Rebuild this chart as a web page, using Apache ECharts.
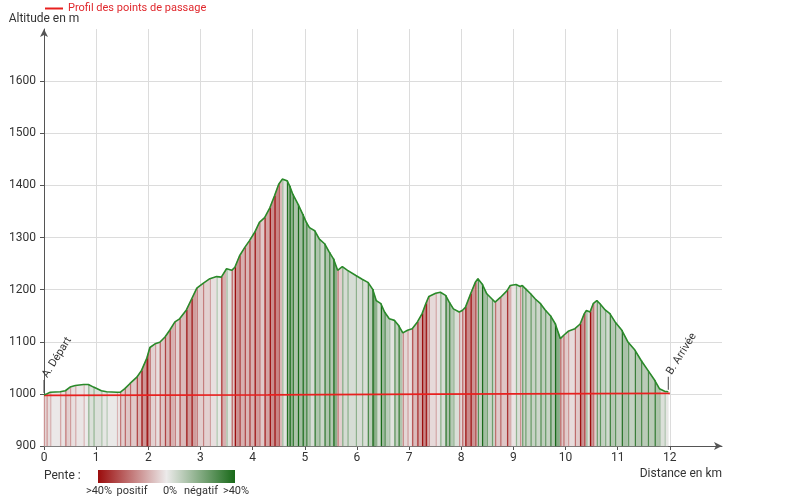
<!DOCTYPE html>
<html>
<head>
<meta charset="utf-8">
<script src="https://cdn.jsdelivr.net/npm/echarts@6/dist/echarts.min.js"></script>
<style>html,body{margin:0;padding:0;background:#fff;}#c{width:800px;height:504px;}</style>
</head>
<body>
<div id="c"></div>
<script>
// Elevation profile (distance km, altitude m)
const profileKm = [0.00,0.05,0.12,0.31,0.41,0.50,0.60,0.76,0.85,0.95,1.10,1.20,1.40,1.46,1.55,1.65,1.78,1.87,1.97,2.03,2.13,2.22,2.32,2.41,2.51,2.60,2.73,2.83,2.93,3.05,3.18,3.31,3.40,3.50,3.60,3.66,3.75,3.85,3.94,4.04,4.13,4.23,4.33,4.42,4.50,4.57,4.66,4.71,4.77,4.87,4.96,5.03,5.09,5.19,5.28,5.38,5.47,5.55,5.63,5.72,5.82,5.98,6.10,6.21,6.30,6.37,6.46,6.53,6.62,6.72,6.80,6.88,6.97,7.06,7.16,7.25,7.32,7.38,7.51,7.60,7.70,7.77,7.85,7.96,8.02,8.08,8.18,8.27,8.32,8.40,8.49,8.59,8.65,8.75,8.88,8.94,9.05,9.13,9.17,9.23,9.33,9.42,9.52,9.61,9.71,9.80,9.90,9.96,10.05,10.18,10.28,10.36,10.40,10.47,10.53,10.60,10.66,10.76,10.85,10.95,11.08,11.20,11.33,11.45,11.58,11.71,11.80,11.90,11.97];
const profileAlt = [998,1000,1003,1004,1006,1013,1016,1018,1018,1013,1006,1004,1003,1003,1010,1020,1032,1045,1068,1089,1096,1099,1109,1122,1138,1144,1161,1182,1203,1212,1221,1225,1224,1240,1237,1243,1265,1281,1294,1310,1329,1338,1357,1380,1402,1412,1409,1399,1383,1364,1345,1329,1319,1313,1297,1288,1272,1259,1237,1244,1237,1227,1220,1214,1201,1179,1173,1157,1144,1141,1131,1117,1122,1125,1138,1154,1173,1187,1193,1195,1189,1176,1163,1157,1160,1166,1192,1214,1221,1211,1192,1182,1176,1185,1198,1208,1210,1206,1208,1202,1192,1182,1173,1161,1150,1135,1106,1112,1120,1125,1134,1154,1160,1157,1173,1179,1173,1161,1154,1138,1122,1099,1084,1064,1045,1026,1010,1005,1004];

// Waypoint profile (red line)
const waypointKm = [0, 4.3, 7.5, 10.5, 12];
const waypointAlt = [997, 998, 999.5, 1000.5, 1001];

// Start / finish markers
const markerNames = ['A. Départ', 'B. Arrivée'];
const markerKm = [0, 11.97];
const markerAlt = [998, 1004];

// Slope legend labels
const slopeLabels = ['>40%', 'positif', '0%', 'négatif', '>40%'];

const FONT = 'Roboto, "Noto Sans", sans-serif';
const C_MID = [236, 234, 234], C_POS = [155, 12, 12], C_NEG = [24, 105, 24];
function mix(e, t) {
  const c = C_MID.map((m, i) => Math.round(m + (e[i] - m) * t));
  return 'rgb(' + c.join(',') + ')';
}
function slopeEnd(s) { return s >= 0 ? C_POS : C_NEG; }
function slopeT(s) { return Math.min(Math.abs(s) / 40, 1); }

const segments = [];
for (let i = 0; i < profileKm.length - 1; i++) {
  const slope = (profileAlt[i + 1] - profileAlt[i]) / ((profileKm[i + 1] - profileKm[i]) * 1000) * 100;
  segments.push([profileKm[i], profileAlt[i], profileKm[i + 1], profileAlt[i + 1], slope]);
}
const profileData = profileKm.map((k, i) => [k, profileAlt[i]]);
const waypointData = waypointKm.map((k, i) => [k, waypointAlt[i]]);
const markerData = markerKm.map((k, i) => [k, markerAlt[i], i]);

const chart = echarts.init(document.getElementById('c'), null, { renderer: 'canvas' });
chart.setOption({
  animation: false,
  textStyle: { fontFamily: FONT },
  grid: { left: 44, right: 78, top: 29, bottom: 58 },
  legend: {
    data: ['Profil des points de passage'],
    left: 40, top: -2,
    icon: 'rect', itemWidth: 18, itemHeight: 2, itemGap: 4,
    textStyle: { color: '#e0282d', fontSize: 11, fontFamily: FONT }
  },
  xAxis: {
    type: 'value', min: 0, max: 13, interval: 1,
    name: 'Distance en km', nameLocation: 'end', nameGap: 0,
    nameTextStyle: { align: 'right', verticalAlign: 'top', padding: [22, 0, 0, 0], color: '#333', fontSize: 12 },
    axisLine: { show: true, symbol: ['none', 'arrow'], symbolSize: [6, 8], lineStyle: { color: '#555', width: 1 } },
    axisTick: { show: true, length: 4, lineStyle: { color: '#555' } },
    axisLabel: { color: '#333', fontSize: 12, margin: 6, showMaxLabel: false, formatter: v => String(v) },
    splitLine: { show: true, showMinLine: false, showMaxLine: false, lineStyle: { color: '#dcdcdc', width: 1 } }
  },
  yAxis: {
    type: 'value', min: 900, max: 1700, interval: 100,
    name: 'Altitude en m', nameLocation: 'end', nameGap: 4,
    nameTextStyle: { color: '#333', fontSize: 12 },
    axisLine: { show: true, symbol: ['none', 'arrow'], symbolSize: [6, 8], lineStyle: { color: '#555', width: 1 } },
    axisTick: { show: true, length: 4, lineStyle: { color: '#555' } },
    axisLabel: { color: '#333', fontSize: 12, margin: 8, showMaxLabel: false, formatter: v => String(v) },
    splitLine: { show: true, showMinLine: false, showMaxLine: false, lineStyle: { color: '#dcdcdc', width: 1 } }
  },
  series: [
    {
      type: 'custom', name: 'pente', silent: true, z: 1,
      encode: { x: [0, 2], y: [1, 3] },
      data: segments,
      renderItem: function (params, api) {
        const x0 = api.value(0), y0 = api.value(1), x1 = api.value(2), y1 = api.value(3);
        const s = api.value(4);
        const p0 = api.coord([x0, y0]), p1 = api.coord([x1, y1]);
        const b0 = api.coord([x0, 900]), b1 = api.coord([x1, 900]);
        const e = slopeEnd(s), t = slopeT(s);
        const fill = mix(e, t * 0.65);
        const edge = mix(e, Math.min(1, 0.25 + t * 1.4));
        return {
          type: 'group', children: [
            { type: 'polygon', shape: { points: [p0, p1, b1, b0] }, style: { fill: fill, stroke: fill, lineWidth: 0.6 } },
            { type: 'line', shape: { x1: p0[0] + 0.5, y1: p0[1], x2: b0[0] + 0.5, y2: b0[1] }, style: { stroke: edge, lineWidth: 1.2 } }
          ]
        };
      }
    },
    {
      type: 'line', name: 'Profil des points de passage', data: waypointData, z: 3,
      symbol: 'none', color: '#e8201f', lineStyle: { color: '#e8201f', width: 1.7 }
    },
    {
      type: 'line', name: 'profil', data: profileData, z: 4,
      symbol: 'none', color: '#2a8a2a', lineStyle: { color: '#2a8a2a', width: 1.6 }
    },
    {
      type: 'custom', name: 'marqueurs', silent: true, z: 5,
      encode: { x: 0, y: 1 },
      data: markerData,
      renderItem: function (params, api) {
        const p = api.coord([api.value(0), api.value(1)]);
        const name = markerNames[api.value(2)];
        return {
          type: 'group', children: [
            { type: 'line', shape: { x1: p[0], y1: p[1] - 2, x2: p[0], y2: p[1] - 15 }, style: { stroke: '#444', lineWidth: 1 } },
            { type: 'text', x: p[0] + 1, y: p[1] - 18, rotation: 58 * Math.PI / 180,
              style: { text: name, fill: '#333', font: '11px ' + FONT, align: 'left', verticalAlign: 'middle' } }
          ]
        };
      }
    }
  ],
  graphic: [
    { type: 'text', left: 44, top: 470, style: { text: 'Pente :', fill: '#333', font: '12px ' + FONT } },
    { type: 'rect', shape: { x: 98, y: 470, width: 137, height: 13 },
      style: { fill: new echarts.graphic.LinearGradient(0, 0, 1, 0, [
        { offset: 0, color: 'rgb(155,12,12)' }, { offset: 0.5, color: 'rgb(236,234,234)' }, { offset: 1, color: 'rgb(24,105,24)' }]) } },
    { type: 'text', x: 99, y: 491, style: { text: slopeLabels[0], fill: '#333', font: '11px ' + FONT, align: 'center', verticalAlign: 'middle' } },
    { type: 'text', x: 132, y: 491, style: { text: slopeLabels[1], fill: '#333', font: '11px ' + FONT, align: 'center', verticalAlign: 'middle' } },
    { type: 'text', x: 170, y: 491, style: { text: slopeLabels[2], fill: '#333', font: '11px ' + FONT, align: 'center', verticalAlign: 'middle' } },
    { type: 'text', x: 201, y: 491, style: { text: slopeLabels[3], fill: '#333', font: '11px ' + FONT, align: 'center', verticalAlign: 'middle' } },
    { type: 'text', x: 236, y: 491, style: { text: slopeLabels[4], fill: '#333', font: '11px ' + FONT, align: 'center', verticalAlign: 'middle' } }
  ]
});
</script>
</body>
</html>
